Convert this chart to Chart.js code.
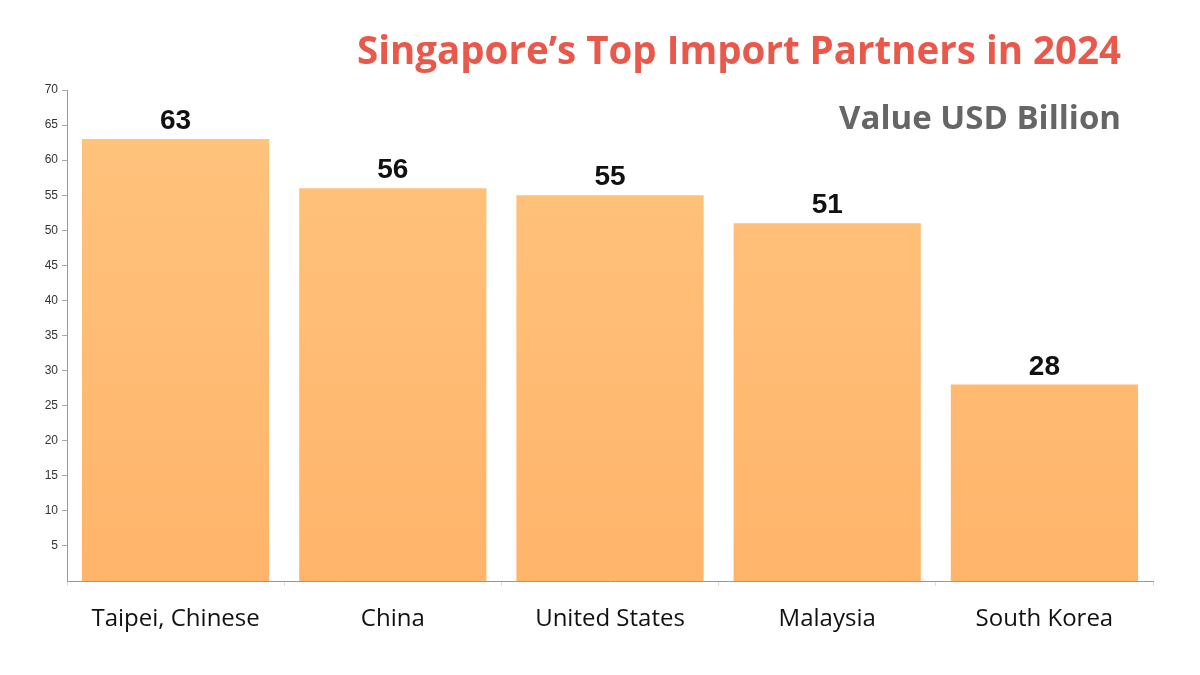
<!DOCTYPE html>
<html>
<head>
<meta charset="utf-8">
<script src="https://cdn.jsdelivr.net/npm/chart.js@4"></script>
<style>
    html, body { margin: 0; padding: 0; background: #fff; }
    #wrap { position: relative; width: 1200px; height: 675px; }
    #title, #subtitle {
        position: absolute;
        right: 79px;
        font-family: 'Open Sans', sans-serif;
        font-weight: 700;
        white-space: nowrap;
    }
    #title { top: 23px; font-size: 38.5px; color: #e8594b; }
    #subtitle { top: 94px; font-size: 33px; color: #666666; }
</style>
</head>
<body>
<div id="wrap">
    <canvas id="chart" width="1200" height="675"></canvas>
    <div id="title">Singapore’s Top Import Partners in 2024</div>
    <div id="subtitle">Value USD Billion</div>
</div>
<script>
// Data
const partners = ['Taipei, Chinese', 'China', 'United States', 'Malaysia', 'South Korea'];
const importValues = [63, 56, 55, 51, 28];
const yTicks = [5, 10, 15, 20, 25, 30, 35, 40, 45, 50, 55, 60, 65, 70];

// Value labels above bars
const valueLabels = {
    id: 'valueLabels',
    afterDatasetsDraw(chart) {
        const ctx = chart.ctx;
        const meta = chart.getDatasetMeta(0);
        ctx.save();
        ctx.font = 'bold 28px "Liberation Sans", Arial, sans-serif';
        ctx.fillStyle = '#111';
        ctx.textAlign = 'center';
        ctx.textBaseline = 'alphabetic';
        meta.data.forEach((bar, i) => {
            ctx.fillText(String(importValues[i]), bar.x, bar.y - 10);
        });
        ctx.restore();
    }
};

function barGradient(context) {
    const area = context.chart.chartArea;
    if (!area) return '#ffbd75';
    const g = context.chart.ctx.createLinearGradient(0, area.top, 0, area.bottom);
    g.addColorStop(0, '#ffc47e');
    g.addColorStop(1, '#ffb46b');
    return g;
}

const ctx = document.getElementById('chart').getContext('2d');
const chart = new Chart(ctx, {
    type: 'bar',
    data: {
        labels: partners,
        datasets: [{
            data: importValues,
            backgroundColor: barGradient,
            borderWidth: 0,
            barPercentage: 0.862,
            categoryPercentage: 1
        }]
    },
    options: {
        responsive: false,
        animation: false,
        layout: {
            padding: { left: 30, right: 47, top: 90, bottom: 0 }
        },
        scales: {
            x: {
                afterFit: (s) => { s.height = 94; },
                grid: {
                    drawOnChartArea: false,
                    tickLength: 5,
                    color: '#dddddd'
                },
                border: { color: '#999999' },
                ticks: {
                    color: '#111',
                    padding: 19,
                    font: { family: 'Open Sans', size: 24 }
                }
            },
            y: {
                min: 0,
                max: 70,
                afterFit: (s) => { s.width = 37; },
                afterBuildTicks: (s) => {
                    s.ticks = yTicks.map(v => ({ value: v }));
                },
                grid: {
                    drawOnChartArea: false,
                    tickLength: 5,
                    color: '#aaaaaa'
                },
                border: { color: '#999999' },
                ticks: {
                    color: '#333',
                    padding: 4,
                    font: { family: 'Liberation Sans', size: 12 }
                }
            }
        },
        plugins: {
            legend: { display: false },
            tooltip: { enabled: false }
        }
    },
    plugins: [valueLabels]
});
</script>
</body>
</html>
